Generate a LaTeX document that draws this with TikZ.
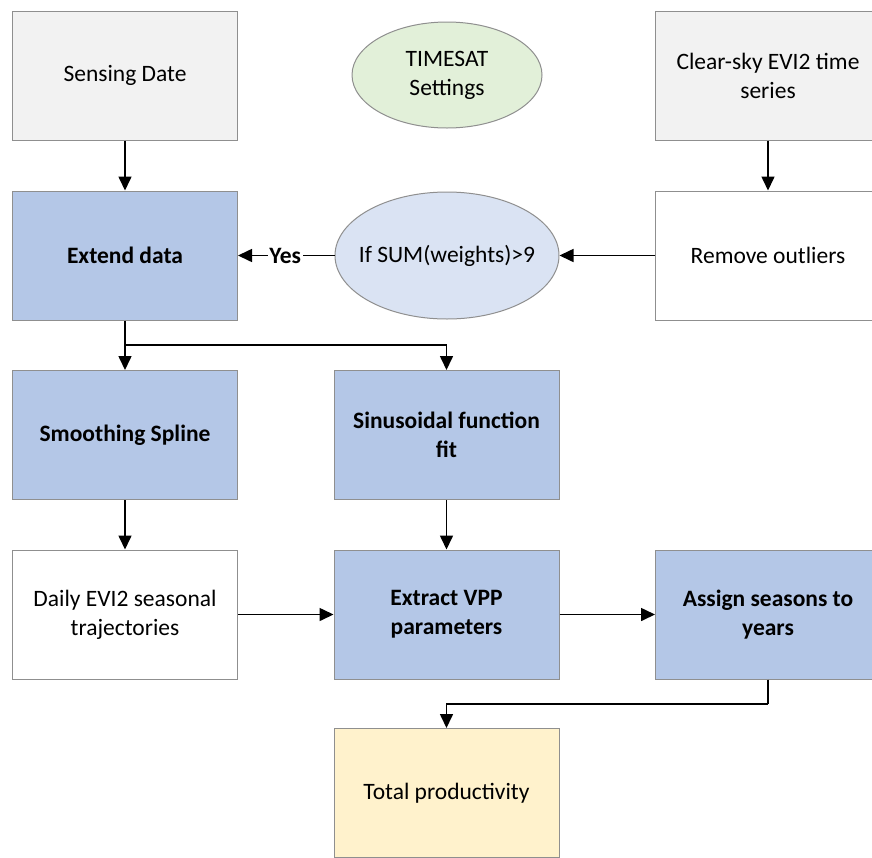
\documentclass[tikz,border=0pt]{standalone}
\usepackage{fontspec}
\setmainfont{Carlito}
\usetikzlibrary{arrows.meta,shapes.geometric}
\definecolor{boxgray}{HTML}{F2F2F2}
\definecolor{boxblue}{HTML}{B4C7E7}
\definecolor{ellblue}{HTML}{DAE3F3}
\definecolor{ellgreen}{HTML}{E2F0D9}
\definecolor{boxyellow}{HTML}{FFF2CC}
\definecolor{edge}{HTML}{8F8F8F}
\tikzset{
  every node/.style={font=\fontsize{23.5}{29}\selectfont, align=center},
  card/.style={rectangle, draw=edge, line width=1pt, minimum width=225pt,
    minimum height=129pt, inner sep=0pt},
  greycard/.style={card, fill=boxgray},
  bluecard/.style={card, fill=boxblue, font=\fontsize{23.5}{29}\selectfont\bfseries},
  whitecard/.style={card, fill=white},
  yellowcard/.style={card, fill=boxyellow},
  oval/.style={ellipse, draw=edge, line width=1pt, inner sep=0pt},
  arr/.style={line width=1.6pt, -{Triangle[length=14pt,width=13pt]}},
  plain/.style={line width=1.6pt},
}
\begin{document}
\begin{tikzpicture}[x=1pt,y=-1pt]
\useasboundingbox (0,0) rectangle (872,857);
\clip (0,0) rectangle (872,857);
\fill[white] (0,0) rectangle (872,857);

% top row
\node[greycard] (sd) at (125,75.5) {Sensing Date};
\node[oval, fill=ellgreen, minimum width=190pt, minimum height=106pt] (ts) at (447,75) {TIMESAT\\Settings};
\node[greycard] (cs) at (768,75.5) {Clear-sky EVI2 time\\series};

% second row (the condition text is boxed to zero width so the ellipse keeps its set size)
\node[bluecard] (ext) at (125,255.5) {Extend data};
\node[oval, fill=ellblue, minimum width=224pt, minimum height=127pt] (cond) at (447,255.5) {\makebox[0pt]{If SUM(weights)>9}};
\node[whitecard] (ro) at (768,255.5) {Remove outliers};

% third row
\node[bluecard] (spl) at (125,435) {Smoothing Spline};
\node[bluecard] (sin) at (446.5,435) {Sinusoidal function\\fit};

% fourth row
\node[whitecard] (daily) at (125,614.5) {Daily EVI2 seasonal\\trajectories};
\node[bluecard] (vpp) at (446.5,614.5) {Extract VPP\\parameters};
\node[bluecard] (asg) at (768,614.5) {Assign seasons to\\years};

% result
\node[yellowcard] (tot) at (446.5,793) {Total productivity};

% connectors
\coordinate (split) at (125,345);
\coordinate (bend) at (768,704);
\draw[arr] (sd.south) -- (ext.north);
\draw[arr] (cs.south) -- (ro.north);
\draw[arr] (ro.west) -- (cond.east);
\draw[arr] (cond.west) -- node[fill=white, inner sep=1.5pt, xshift=-1pt, font=\fontsize{23.5}{29}\selectfont\bfseries] {Yes} (ext.east);
\draw[arr] (ext.south) -- (spl.north);
\draw[arr] (split) -| (sin.north);
\draw[arr] (spl.south) -- (daily.north);
\draw[arr] (sin.south) -- (vpp.north);
\draw[arr] (daily.east) -- (vpp.west);
\draw[arr] (vpp.east) -- (asg.west);
\draw[plain] (asg.south) -- (bend);
\draw[arr] (bend) -| (tot.north);
\end{tikzpicture}
\end{document}
